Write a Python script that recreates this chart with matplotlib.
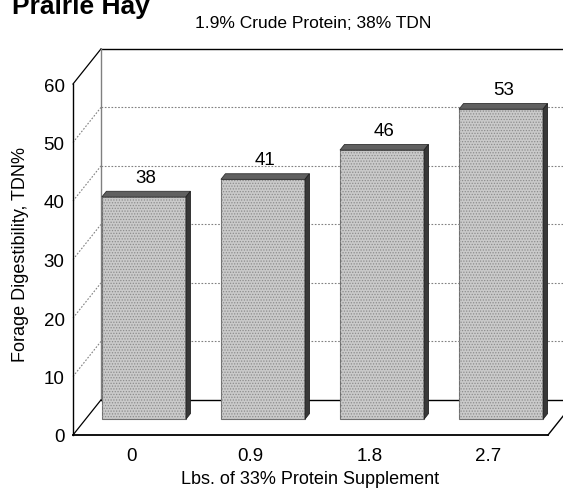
import numpy as np
import matplotlib
matplotlib.use("Agg")
import matplotlib.pyplot as plt
from matplotlib.patches import Polygon

plt.rcParams["font.family"] = ["Liberation Sans", "DejaVu Sans"]
plt.rcParams["hatch.linewidth"] = 0.6

# datos del grafico
suplemento = ["0", "0.9", "1.8", "2.7"]
tdn = [38, 41, 46, 53]
y_ticks = [0, 10, 20, 30, 40, 50, 60]

titulo = "Prairie Hay"
subtitulo = "1.9% Crude Protein; 38% TDN"
xlab = "Lbs. of 33% Protein Supplement"
ylab = "Forage Digestibility, TDN%"

# geometria del "3D" de Excel (en unidades de datos)
X0, X1 = -0.49, 3.5      # plano frontal
DX, DY = 0.235, 6.0      # profundidad de la caja
BD = 0.45                # profundidad donde se apoyan las barras
BF = 0.16                # grosor de la barra
ANCHO = 0.706

W, H = 563, 489
fig = plt.figure(figsize=(W / 100, H / 100), dpi=100)
ax = fig.add_axes([73 / W, (H - 436) / H, (548 - 73) / W, (436 - 85) / H])
ax.set_xlim(X0, X1)
ax.set_ylim(0, 60)
for s in ["top", "right"]:
    ax.spines[s].set_visible(False)
ax.spines["left"].set_linewidth(1.0)
ax.spines["bottom"].set_linewidth(1.3)

x = np.arange(len(tdn))
ax.set_xticks(x)
ax.set_xticklabels(suplemento, fontsize=13.5)
ax.set_yticks(y_ticks)
ax.set_yticklabels([str(v) for v in y_ticks], fontsize=13.5)
ax.tick_params(length=0)
ax.tick_params(axis="y", pad=6)
ax.tick_params(axis="x", pad=9)
ax.set_xlabel(xlab, fontsize=13, labelpad=4)
ax.set_ylabel(ylab, fontsize=13)
ax.yaxis.set_label_coords(-0.092, 0.518)

kw = dict(clip_on=False, zorder=1)
# paredes
ax.plot([X0, X0 + DX], [60, 60 + DY], color="black", lw=0.9, **kw)
ax.plot([X0 + DX, X1 + DX + 0.5], [60 + DY, 60 + DY], color="black", lw=1.0, **kw)
ax.plot([X0 + DX, X0 + DX], [DY, 60 + DY], color="#808080", lw=1.0, **kw)
ax.plot([X0, X0 + DX], [0, DY], color="black", lw=0.9, **kw)
ax.plot([X0 + DX, X1 + DX + 0.5], [DY, DY], color="black", lw=1.0, **kw)
ax.plot([X1, X1 + DX], [0, DY], color="black", lw=1.0, **kw)
for v in y_ticks[1:-1]:
    ax.plot([X0 + DX, X1 + DX + 0.5], [v + DY, v + DY], color="#808080",
            lw=0.8, ls=(0, (1.5, 1.5)), **kw)
    ax.plot([X0, X0 + DX], [v, v + DY], color="#808080",
            lw=0.8, ls=(0, (1.5, 1.5)), **kw)

# barras
base = BD * DY
xc = x + BD * DX
ax.bar(xc, tdn, width=ANCHO, bottom=base, color="#cacaca",
       edgecolor="#707070", linewidth=0.8, zorder=3)
# punteado tipo textura de Excel
ax.bar(xc, tdn, width=ANCHO, bottom=base, color="none",
       edgecolor="#8c8c8c", linewidth=0, hatch="......", zorder=3)
dx, dy = BF * DX, BF * DY
for xi, v in zip(xc, tdn):
    xl, xr, top = xi - ANCHO / 2, xi + ANCHO / 2, v + base
    ax.add_patch(Polygon([(xl, top), (xr, top), (xr + dx, top + dy), (xl + dx, top + dy)],
                         closed=True, facecolor="#606060", edgecolor="#303030",
                         lw=0.6, zorder=3, clip_on=False))
    ax.add_patch(Polygon([(xr, base), (xr, top), (xr + dx, top + dy), (xr + dx, base + dy)],
                         closed=True, facecolor="#383838", edgecolor="#202020",
                         lw=0.6, zorder=3, clip_on=False))
    ax.text(xi + dx / 2, top + 2.6, str(v), ha="center", va="baseline",
            fontsize=13.5, zorder=4)

fig.text(12 / W, 1 - 14 / H, titulo, fontsize=19, fontweight="bold",
         ha="left", va="baseline")
fig.text(313 / W, 1 - 23 / H, subtitulo, fontsize=12.5, ha="center", va="center")

fig.savefig("out.png", dpi=100, facecolor="white")
